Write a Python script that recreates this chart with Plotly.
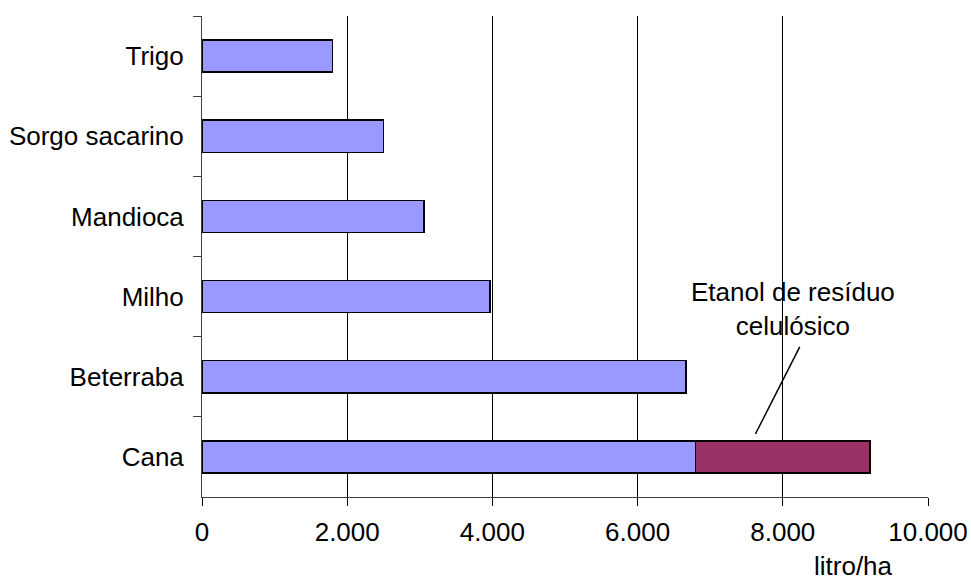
import plotly.graph_objects as go

categories = ["Trigo", "Sorgo sacarino", "Mandioca", "Milho", "Beterraba", "Cana"]
etanol_convencional = [1800, 2500, 3060, 3970, 6670, 6800]
etanol_residuo = [None, None, None, None, None, 2400]
x_ticks = [0, 2000, 4000, 6000, 8000, 10000]

FONT = "Liberation Sans, Arial, sans-serif"
FS = 26

fig = go.Figure()
fig.add_trace(go.Bar(
    y=categories, x=etanol_convencional, orientation="h",
    marker=dict(color="#9999FF", line=dict(color="black", width=1.5)),
    width=0.4, showlegend=False,
))
fig.add_trace(go.Bar(
    y=categories, x=etanol_residuo, orientation="h",
    marker=dict(color="#993366", line=dict(color="black", width=1.5)),
    width=0.4, showlegend=False,
))

fig.update_layout(
    barmode="stack",
    width=971, height=580,
    margin=dict(l=202, r=43, t=16, b=83, autoexpand=False),
    paper_bgcolor="white", plot_bgcolor="white",
    separators=",.",
    font=dict(family=FONT, size=FS, color="black"),
    xaxis=dict(
        range=[0, 10000], tickvals=x_ticks, tickformat=",d",
        showgrid=True, gridcolor="black", gridwidth=1,
        zeroline=False, showline=True, linecolor="#404040", linewidth=1,
        ticks="outside", ticklen=8, tickcolor="black",
        tickfont=dict(family=FONT, size=FS),
        ticklabelstandoff=4, automargin=False, ticklabeloverflow="allow",
    ),
    yaxis=dict(
        autorange="reversed", type="category",
        showgrid=False, zeroline=False,
        showline=True, linecolor="#404040", linewidth=1,
        ticks="outside", ticklen=8, tickcolor="#404040", tickson="boundaries",
        tickfont=dict(family=FONT, size=FS),
        ticklabelstandoff=12, automargin=False, ticklabeloverflow="allow",
    ),
    shapes=[dict(
        type="line", xref="x", yref="paper",
        x0=7623, y0=0.131, x1=8233, y1=0.312,
        line=dict(color="black", width=1.5),
    )],
    annotations=[
        dict(text="Etanol de resíduo<br>celulósico", xref="x", yref="paper",
             x=8136, y=0.391, showarrow=False, xanchor="center", yanchor="middle",
             font=dict(family=FONT, size=FS)),
        dict(text="litro/ha", xref="paper", yref="paper",
             x=0.897, y=-0.143, showarrow=False, xanchor="center", yanchor="middle",
             font=dict(family=FONT, size=FS)),
    ],
)

fig.write_html(
    "out.html",
    config={"displayModeBar": False},
    post_script="document.body.style.margin='0';document.body.style.overflow='hidden';",
)
